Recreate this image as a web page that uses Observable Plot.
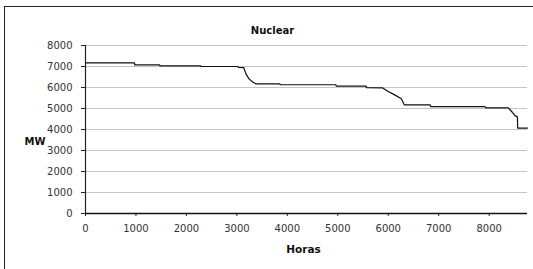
<!DOCTYPE html>
<html>
<head>
<meta charset="utf-8">
<script src="https://cdn.jsdelivr.net/npm/d3@7"></script>
<script src="https://cdn.jsdelivr.net/npm/@observablehq/plot@0.6"></script>
<style>
  html, body { margin: 0; padding: 0; background: #fff; }
  #wrap { position: relative; width: 533px; height: 269px; overflow: hidden; }
  #border { position: absolute; left: 4px; top: 6px; width: 600px; height: 400px;
            border-left: 1.5px solid #222; border-top: 1.5px solid #222; pointer-events: none; }
</style>
</head>
<body>
<div id="wrap"><div id="border"></div></div>
<script>
// Data (hours of year vs MW)
const hours = [0, 970, 975, 1470, 1475, 2285, 2290, 3020, 3030, 3135, 3180, 3240, 3320, 3380, 3850, 3860, 4960, 4970, 5560, 5570, 5890, 5990, 6120, 6260, 6320, 6830, 6840, 7920, 7930, 8380, 8460, 8510, 8560, 8565, 8760];
const mw    = [7175, 7175, 7080, 7080, 7030, 7030, 7000, 7000, 6960, 6950, 6650, 6410, 6250, 6170, 6170, 6130, 6130, 6070, 6070, 5990, 5980, 5820, 5660, 5460, 5170, 5170, 5090, 5090, 5030, 5030, 4820, 4660, 4600, 4070, 4070];
const xTicks = [0, 1000, 2000, 3000, 4000, 5000, 6000, 7000, 8000];
const yTicks = [0, 1000, 2000, 3000, 4000, 5000, 6000, 7000, 8000];
const title = "Nuclear";
const yLabel = "MW";
const xLabel = "Horas";

const data = hours.map((h, i) => ({h, mw: mw[i]}));

const chart = Plot.plot({
  width: 533,
  height: 269,
  marginLeft: 85,
  marginRight: 6,
  marginTop: 45,
  marginBottom: 56,
  x: {domain: [0, 8760]},
  y: {domain: [0, 8000]},
  style: {fontFamily: "DejaVu Sans", fontSize: "10px", color: "#333", background: "transparent"},
  marks: [
    Plot.gridY(yTicks, {stroke: "#c4c4c4", strokeOpacity: 1, strokeWidth: 1}),
    Plot.axisY(yTicks, {tickSize: 4, tickPadding: 9, stroke: "#222", label: null, tickFormat: d => String(d)}),
    Plot.axisX(xTicks, {tickSize: 3, tickPadding: 8, stroke: "#222", label: null, tickFormat: d => String(d)}),
    Plot.ruleX([0], {stroke: "#222", strokeWidth: 1.2}),
    Plot.ruleY([0], {stroke: "#111", strokeWidth: 1.4}),
    Plot.line(data, {x: "h", y: "mw", stroke: "#111", strokeWidth: 1.2}),
    Plot.text([title], {text: d => d, frameAnchor: "top", dx: -34, dy: -19, fontWeight: "bold", fontSize: 10, fill: "#111"}),
    Plot.text([yLabel], {text: d => d, frameAnchor: "left", dx: -61, dy: 12, fontWeight: "bold", fontSize: 10, fill: "#111"}),
    Plot.text([xLabel], {text: d => d, frameAnchor: "bottom", dx: -3, dy: 39, fontWeight: "bold", fontSize: 10.5, fill: "#111"})
  ]
});
chart.style.position = "absolute";
chart.style.left = "0px";
chart.style.top = "0px";
document.getElementById("wrap").appendChild(chart);
</script>
</body>
</html>
